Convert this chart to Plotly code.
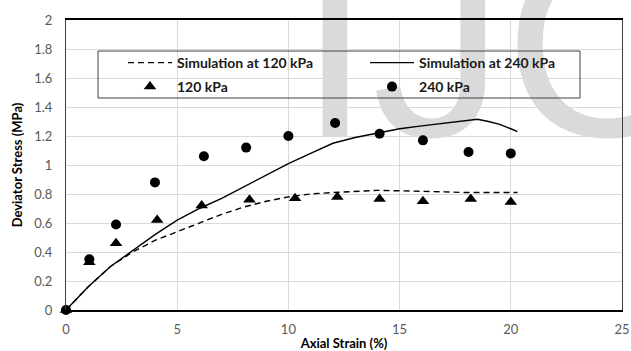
import plotly.graph_objects as go

# Experimental data
exp_strain_120 = [0, 1.05, 2.25, 4.1, 6.1, 8.25, 10.3, 12.2, 14.1, 16.05, 18.2, 20.0]
exp_stress_120 = [0, 0.33, 0.46, 0.62, 0.72, 0.76, 0.77, 0.78, 0.765, 0.75, 0.765, 0.745]

exp_strain_240 = [0, 1.05, 2.25, 4.0, 6.2, 8.1, 10.0, 12.1, 14.1, 16.05, 18.1, 20.0]
exp_stress_240 = [0, 0.35, 0.59, 0.88, 1.06, 1.12, 1.20, 1.29, 1.215, 1.17, 1.09, 1.08]

# Simulations
sim_strain_120 = [0, 1, 2, 3, 4, 5, 6, 7, 8, 9, 10, 11, 12, 13, 14, 15, 16, 17, 18, 19, 20.3]
sim_stress_120 = [0, 0.16, 0.30, 0.40, 0.48, 0.54, 0.60, 0.66, 0.71, 0.75, 0.78, 0.80, 0.81,
                  0.82, 0.825, 0.822, 0.82, 0.815, 0.81, 0.81, 0.81]

sim_strain_240 = [0, 1, 2, 3, 4, 5, 6, 7, 8, 9, 10, 11, 12, 13, 14, 15, 16, 17, 18, 18.5,
                  19, 19.5, 20, 20.3]
sim_stress_240 = [0, 0.16, 0.30, 0.41, 0.52, 0.62, 0.70, 0.77, 0.85, 0.93, 1.01, 1.08, 1.15,
                  1.19, 1.22, 1.25, 1.27, 1.29, 1.31, 1.315, 1.30, 1.28, 1.25, 1.23]

FONT = "Lato"
WATERMARK = "IJOER"

fig = go.Figure()

# decorative background watermark, drawn first so that all data sits on top of it
fig.add_trace(go.Scatter(x=[10.43], y=[1.659], mode="text", text=[WATERMARK],
                         textposition="middle right", cliponaxis=False,
                         showlegend=False, hoverinfo="skip",
                         textfont=dict(family="Liberation Sans", size=266, color="#dadada")))

fig.add_trace(go.Scatter(x=sim_strain_120, y=sim_stress_120, mode="lines",
                         name="Simulation at 120 kPa", legend="legend",
                         line=dict(color="black", width=1.4, dash="6px,4px")))
fig.add_trace(go.Scatter(x=sim_strain_240, y=sim_stress_240, mode="lines",
                         name="Simulation at 240 kPa", legend="legend2",
                         line=dict(color="black", width=1.4)))
fig.add_trace(go.Scatter(x=exp_strain_120, y=exp_stress_120, mode="markers",
                         name="120 kPa", cliponaxis=False, legend="legend3",
                         marker=dict(symbol="triangle-up", size=11, color="black")))
fig.add_trace(go.Scatter(x=exp_strain_240, y=exp_stress_240, mode="markers",
                         name="240 kPa", cliponaxis=False, legend="legend4",
                         marker=dict(symbol="circle", size=10, color="black")))

# legend frame
fig.add_shape(type="rect", xref="paper", yref="paper",
              x0=0.0576, x1=0.9245, y0=0.731, y1=0.893,
              line=dict(color="#404040", width=1), fillcolor="rgba(0,0,0,0)", layer="above")

leg_common = dict(orientation="h", xanchor="left", yanchor="middle", itemwidth=44,
                  bgcolor="rgba(0,0,0,0)", borderwidth=0,
                  font=dict(family=FONT, size=14, color="#1a1a1a", weight="bold"))

fig.update_layout(
    width=631, height=351,
    margin=dict(l=66, r=9, t=20, b=41),
    paper_bgcolor="white", plot_bgcolor="white",
    font=dict(family=FONT, size=13, color="#595959"),
    showlegend=True,
    legend=dict(x=0.1025, y=0.8517, **leg_common),
    legend2=dict(x=0.5378, y=0.8517, **leg_common),
    legend3=dict(x=0.1025, y=0.769, **leg_common),
    legend4=dict(x=0.5378, y=0.769, **leg_common),
    xaxis=dict(range=[0, 25], dtick=5, tick0=0, showgrid=True, gridcolor="#d9d9d9",
               gridwidth=1, zeroline=False, showline=True, linecolor="black", linewidth=1.5,
               mirror=True, ticks="", ticklabelstandoff=7, automargin=False,
               tickfont=dict(size=13, color="#595959"),
               title=dict(text="Axial Strain (%)", standoff=4,
                          font=dict(family=FONT, size=13, color="black", weight="bold"))),
    yaxis=dict(range=[0, 2], dtick=0.2, tick0=0, showgrid=True, gridcolor="#d9d9d9",
               gridwidth=1, zeroline=False, showline=True, linecolor="#404040", linewidth=1.2,
               mirror=True, ticks="", ticklabelstandoff=10, automargin=False,
               tickfont=dict(size=13, color="#595959"),
               title=dict(text="Deviator Stress (MPa)", standoff=8,
                          font=dict(family=FONT, size=13, color="black", weight="bold"))),
)

fig.write_html("out.html")
